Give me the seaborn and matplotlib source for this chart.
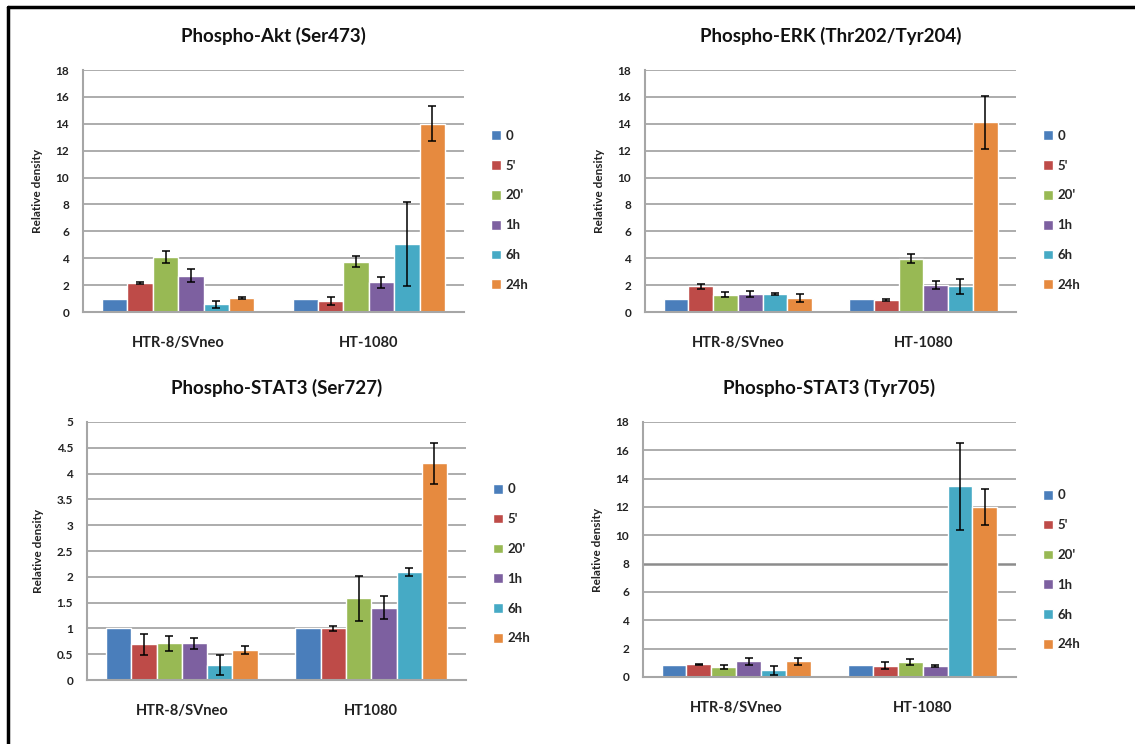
import pandas as pd
import seaborn as sns
import matplotlib.pyplot as plt
from matplotlib.lines import Line2D
from matplotlib.ticker import FuncFormatter

# time points (legend) and colours
times = ['0', "5'", "20'", '1h', '6h', '24h']
colors = ['#4A7EBB', '#BE4B48', '#98B954', '#7D60A0', '#46AAC5', '#E68A3F']

# Phospho-Akt (Ser473)
akt_cells = ['HTR-8/SVneo', 'HT-1080']
akt_htr = [1.0, 2.15, 4.1, 2.7, 0.57, 1.05]
akt_htr_err = [0, 0.07, 0.43, 0.5, 0.27, 0.1]
akt_ht = [1.0, 0.8, 3.75, 2.2, 5.05, 14.0]
akt_ht_err = [0, 0.3, 0.4, 0.42, 3.1, 1.3]

# Phospho-ERK (Thr202/Tyr204)
erk_cells = ['HTR-8/SVneo', 'HT-1080']
erk_htr = [1.0, 1.9, 1.3, 1.35, 1.35, 1.05]
erk_htr_err = [0, 0.2, 0.16, 0.2, 0.07, 0.31]
erk_ht = [1.0, 0.88, 3.95, 2.0, 1.9, 14.1]
erk_ht_err = [0, 0.07, 0.33, 0.32, 0.53, 2.0]

# Phospho-STAT3 (Ser727)
s727_cells = ['HTR-8/SVneo', 'HT1080']
s727_htr = [1.0, 0.69, 0.71, 0.71, 0.29, 0.58]
s727_htr_err = [0, 0.21, 0.15, 0.1, 0.2, 0.07]
s727_ht = [1.0, 1.0, 1.58, 1.4, 2.1, 4.2]
s727_ht_err = [0, 0.05, 0.43, 0.22, 0.08, 0.4]

# Phospho-STAT3 (Tyr705)
y705_cells = ['HTR-8/SVneo', 'HT-1080']
y705_htr = [0.85, 0.9, 0.7, 1.1, 0.47, 1.1]
y705_htr_err = [0, 0.03, 0.17, 0.22, 0.3, 0.22]
y705_ht = [0.85, 0.78, 1.05, 0.78, 13.45, 12.0]
y705_ht_err = [0, 0.25, 0.19, 0.08, 3.05, 1.25]

sns.set_style('white')
plt.rcParams['font.family'] = ['Lato', 'DejaVu Sans']
grey = '#A6A6A6'

fig = plt.figure(figsize=(11.35, 7.44), dpi=100)

panels = [
    ('Phospho-Akt (Ser473)', akt_cells, akt_htr, akt_htr_err, akt_ht, akt_ht_err,
     [0.0731, 0.5806, 0.3357, 0.3253], 18, 2, 0.42),
    ('Phospho-ERK (Thr202/Tyr204)', erk_cells, erk_htr, erk_htr_err, erk_ht, erk_ht_err,
     [0.5683, 0.5806, 0.3269, 0.3253], 18, 2, 0.42),
    ('Phospho-STAT3 (Ser727)', s727_cells, s727_htr, s727_htr_err, s727_ht, s727_ht_err,
     [0.0767, 0.0860, 0.3339, 0.3468], 5, 0.5, 0.45),
    ('Phospho-STAT3 (Tyr705)', y705_cells, y705_htr, y705_htr_err, y705_ht, y705_ht_err,
     [0.5665, 0.0901, 0.3286, 0.3427], 18, 2, 0.42),
]

fmt = FuncFormatter(lambda v, p: ('%g' % v))

for title, cells, v1, e1, v2, e2, pos, ymax, step, leg_y in panels:
    ax = fig.add_axes(pos)
    df = pd.DataFrame({
        'cell': [cells[0]] * 6 + [cells[1]] * 6,
        'time': times * 2,
        'value': v1 + v2,
    })
    errs = {cells[0]: e1, cells[1]: e2}
    sns.barplot(data=df, x='cell', y='value', hue='time', order=cells,
                hue_order=times, palette=colors, saturation=1, errorbar=None,
                width=0.8, ax=ax)

    # error bars at the bar centres seaborn computed
    bar_conts = list(ax.containers)
    for i, cont in enumerate(bar_conts):
        xs, hs, es = [], [], []
        for j, rect in enumerate(cont):
            e = errs[cells[j]][i]
            if e > 0:
                xs.append(rect.get_x() + rect.get_width() / 2)
                hs.append(rect.get_height())
                es.append(e)
        if xs:
            ax.errorbar(xs, hs, yerr=es, fmt='none', ecolor='black',
                        elinewidth=1.1, capsize=3, capthick=1.1, zorder=5)

    ax.set_xlim(-0.5, 1.5)
    ax.set_ylim(0, ymax)
    ticks = [k * step for k in range(int(round(ymax / step)) + 1)]
    ax.set_yticks(ticks)
    ax.yaxis.set_major_formatter(fmt)
    ax.yaxis.grid(True, color=grey, lw=1.3)
    ax.set_axisbelow(True)
    if title == 'Phospho-STAT3 (Tyr705)':
        ax.get_ygridlines()[4].set_color('#8C8C8C')
        ax.get_ygridlines()[4].set_linewidth(1.8)
    sns.despine(ax=ax)
    for s in ['left', 'bottom']:
        ax.spines[s].set_color(grey)
        ax.spines[s].set_linewidth(1.5)

    ax.set_xticks([-0.5, 0.5, 1.5], minor=True)
    ax.tick_params(axis='x', which='major', length=0, pad=17,
                   labelsize=10.5)
    ax.tick_params(axis='x', which='minor', length=6, width=1.5,
                   color=grey, direction='out')
    ax.tick_params(axis='y', length=4, width=1.2, color=grey,
                   direction='out', labelsize=8.5, pad=6)
    for lab in ax.get_xticklabels() + ax.get_yticklabels():
        lab.set_fontweight('bold')
        lab.set_color('#222222')

    ax.set_xlabel('')
    ax.set_ylabel('Relative density', fontsize=8.5, fontweight='bold',
                  labelpad=9, color='#222222')
    ax.set_title(title, fontsize=13.5, fontweight='bold', pad=20,
                 color='#111111')

    handles, labels = ax.get_legend_handles_labels()
    ax.legend(handles, labels, loc='center left', bbox_to_anchor=(1.04, leg_y),
              frameon=False, labelspacing=1.35, handlelength=0.75,
              handleheight=0.75, handletextpad=0.35,
              prop={'weight': 'bold', 'size': 9.5})

# black frame on top and left edge of the picture
fig.add_artist(Line2D([8 / 1135, 8 / 1135], [0, 1 - 7 / 744], color='black',
                      lw=2.5, transform=fig.transFigure))
fig.add_artist(Line2D([8 / 1135, 1], [1 - 7 / 744, 1 - 7 / 744], color='black',
                      lw=2.5, transform=fig.transFigure))

fig.savefig('out.png', dpi=100, facecolor='white')
